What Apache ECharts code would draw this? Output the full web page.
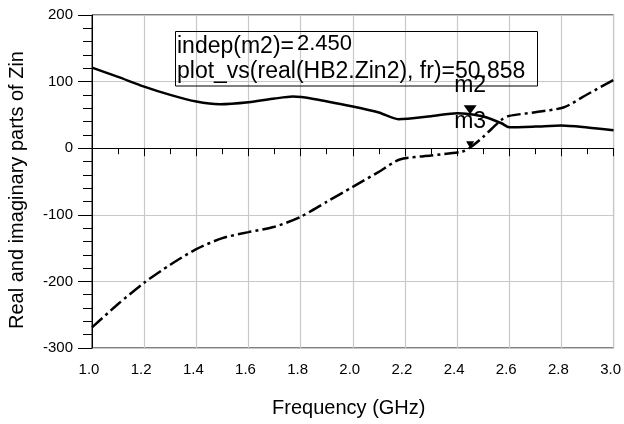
<!DOCTYPE html>
<html><head><meta charset="utf-8">
<script src="https://cdn.jsdelivr.net/npm/echarts@6/dist/echarts.min.js"></script>
<style>html,body{margin:0;padding:0;background:#fff}#c{width:624px;height:424px}</style>
</head><body><div id="c"></div>
<script>
const freqReal = [1.0,1.1,1.2,1.3,1.4,1.49,1.6,1.7,1.77,1.85,2.0,2.1,2.175,2.3,2.4,2.45,2.5,2.57,2.6,2.7,2.8,2.9,3.0];
const realZin  = [121,107,92.5,80,70,66,69,74.5,77.5,74,62.5,53.5,43.5,48,52.5,50.858,47.5,37.5,31.5,32.5,34,31,27];
const freqImag = [1.0,1.1,1.2,1.3,1.4,1.5,1.6,1.7,1.8,1.9,2.0,2.1,2.18,2.3,2.42,2.45,2.5,2.57,2.6,2.7,2.81,2.9,3.0];
const imagZin  = [-269,-234,-202,-175,-151.5,-135,-126,-118,-103,-80.5,-58,-35.5,-17,-11,-5,1,17,42.5,48.5,54,61.5,81,102.5];
const xTicks = [1.0,1.2,1.4,1.6,1.8,2.0,2.2,2.4,2.6,2.8,3.0];
const yTicks = [-300,-200,-100,0,100,200];
const markerM2 = {name:'m2', x:2.45, y:50.858};
const markerM3 = {name:'m3', x:2.45, y:0};
const readout = {lhs:'indep(m2)=', indep:'2.450', expr:'plot_vs(real(HB2.Zin2), fr)=', val:'50.858'};
const xName = 'Frequency (GHz)';
const yName = 'Real and imaginary parts of Zin';

const FONT = '"Liberation Sans", Arial, sans-serif';
const chart = echarts.init(document.getElementById('c'), null, {renderer:'canvas'});
const pair = (xs, ys) => xs.map((x,i)=>[x, ys[i]]);
const mp = (m, size) => ({
  symbol:'triangle', symbolRotate:180, symbolSize:size, symbolOffset:[0, -size[1]/2],
  itemStyle:{color:'#000'},
  data:[{coord:[m.x, m.y], name:m.name}],
  label:{show:true, position:'top', distance:8, formatter:m.name, color:'#000', fontSize:23, fontFamily:FONT}
});
chart.setOption({
  animation:false,
  grid:{left:92, right:6, top:15, bottom:76, show:true, borderColor:'#000', borderWidth:1},
  xAxis:{type:'value', min:xTicks[0], max:xTicks[xTicks.length-1], interval:0.2,
    name:xName, nameLocation:'middle', nameGap:50,
    nameTextStyle:{fontSize:20, color:'#000', fontFamily:FONT, padding:[0,8,0,0]},
    axisLine:{lineStyle:{color:'#000', width:1}},
    axisTick:{show:true, length:8, lineStyle:{color:'#000'}},
    minorTick:{show:true, splitNumber:2, length:6, lineStyle:{color:'#000'}},
    axisLabel:{formatter:v=>v.toFixed(1), fontSize:15, color:'#000', margin:14, fontFamily:FONT, showMaxLabel:true, padding:[0,6,0,0]},
    splitLine:{show:true, lineStyle:{color:'#c8c8c8', width:1.2}}
  },
  yAxis:{type:'value', min:yTicks[0], max:yTicks[yTicks.length-1], interval:100,
    axisLine:{show:true, lineStyle:{color:'#000', width:1}},
    axisTick:{show:true, length:14, lineStyle:{color:'#000'}},
    minorTick:{show:true, splitNumber:5, length:9, lineStyle:{color:'#000'}},
    axisLabel:{fontSize:15, color:'#000', margin:19, fontFamily:FONT},
    splitLine:{show:true, lineStyle:{color:'#c8c8c8', width:1.2}}
  },
  series:[
    {type:'line', data:pair(freqReal, realZin), smooth:0.25, showSymbol:false,
      lineStyle:{color:'#000', width:2.5}, markPoint:mp(markerM2,[13,9])},
    {type:'line', data:pair(freqImag, imagZin), smooth:0.25, showSymbol:false,
      lineStyle:{color:'#000', width:2.5, type:[14,4,3,4]}, markPoint:mp(markerM3,[8,7])}
  ],
  graphic:[
    {type:'rect', shape:{x:175.5,y:31.5,width:362,height:54.5}, style:{fill:'none', stroke:'#000', lineWidth:1}, z:10},
    {type:'text', x:177, y:35.4, style:{text:readout.lhs, fontSize:23, fontFamily:FONT, fill:'#000'}, z:10},
    {type:'text', x:297, y:32.7, style:{text:readout.indep, fontSize:22, fontFamily:FONT, fill:'#000'}, z:10},
    {type:'text', x:177, y:60, style:{text:readout.expr+readout.val, fontSize:23, fontFamily:FONT, fill:'#000'}, z:10},
    {type:'text', x:17.5, y:190, rotation:Math.PI/2, style:{text:yName, fontSize:20, fontFamily:FONT, fill:'#000', align:'center', verticalAlign:'middle'}, z:10}
  ]
});
</script></body></html>
